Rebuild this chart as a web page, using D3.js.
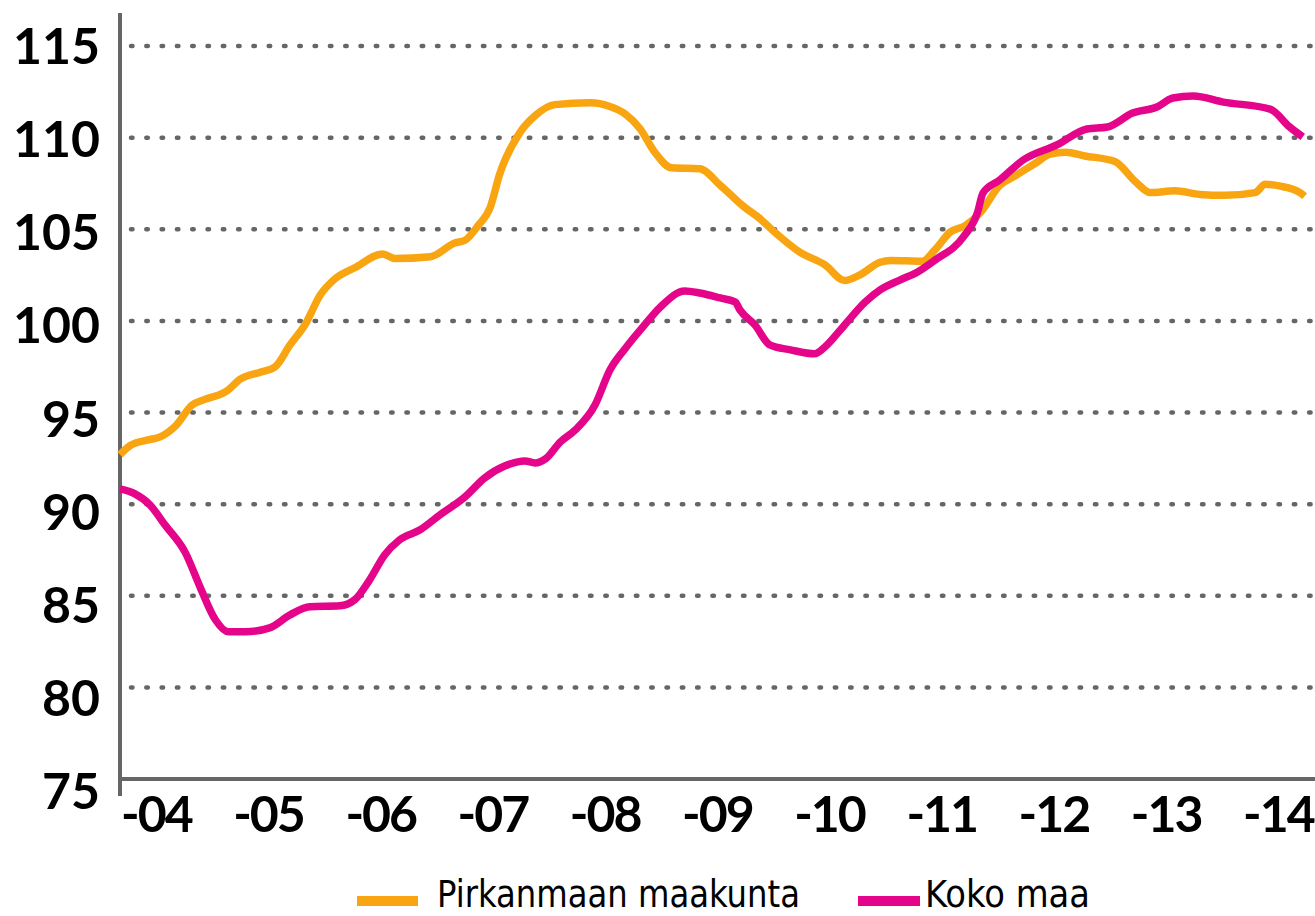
<!DOCTYPE html>
<html>
<head>
<meta charset="utf-8">
<script src="https://cdn.jsdelivr.net/npm/d3@7"></script>
<style>
  html, body { margin: 0; padding: 0; background: #fff; }
  svg { display: block; }
</style>
</head>
<body>
<script>
// months counted from Jan 2004
var pirkMonths = [0, 1.1, 3, 4.3, 6, 7.7, 9, 11.5, 12.8, 15, 16.6, 18.2, 19.8, 21.4, 23, 25.1, 28.1, 29.4, 33.2, 35.8, 36.9, 38.3, 39.6, 40.6, 42.8, 44.4, 46.5, 50.3, 52.4, 54, 55.6, 57.2, 59, 62, 64.2, 66.8, 68.4, 70, 72.7, 75.4, 77.5, 79.1, 81.3, 82.4, 85.8, 87.2, 88.8, 90.4, 92, 94.1, 95.7, 97.9, 99.5, 101.1, 103.2, 106.4, 108.6, 110.2, 112.8, 115.5, 118.2, 121.4, 122.5, 124.1, 126.2, 126.7];
var pirkValues = [92.7, 93.2, 93.5, 93.67, 94.3, 95.4, 95.7, 96.2, 96.8, 97.2, 97.5, 98.7, 99.8, 101.4, 102.3, 102.9, 103.65, 103.4, 103.5, 104.25, 104.4, 105.2, 106.2, 108.0, 110.3, 111.2, 111.8, 111.9, 111.7, 111.3, 110.5, 109.2, 108.35, 108.3, 107.4, 106.2, 105.6, 104.85, 103.75, 103.05, 102.2, 102.5, 103.2, 103.3, 103.25, 103.9, 104.85, 105.2, 105.9, 107.4, 107.9, 108.6, 109.1, 109.2, 109.0, 108.7, 107.6, 107.0, 107.1, 106.9, 106.85, 107.0, 107.45, 107.35, 107.0, 106.8];

var kokoMonths = [0, 1.6, 3.2, 4.8, 7, 8.6, 10.2, 11.6, 13.4, 16, 18.2, 20.3, 23.5, 25.1, 26.7, 28.3, 29.9, 32.1, 34.2, 36.9, 39, 41.2, 43.3, 44.4, 45.5, 47.1, 48.7, 50.8, 52.4, 54, 56.1, 57.8, 60.4, 62, 64.2, 65.8, 66.3, 67.9, 69.5, 71.7, 74.3, 75.4, 77.5, 79.7, 81.3, 83.4, 85.3, 87.2, 90.2, 91.7, 92.3, 94.1, 96.6, 100.2, 103.4, 105.6, 108.3, 110.9, 112.6, 114.8, 118, 123, 125.1, 126.5];
var kokoValues = [90.83, 90.56, 89.96, 88.87, 87.34, 85.43, 83.69, 83.03, 83.03, 83.25, 83.96, 84.4, 84.45, 84.78, 85.87, 87.23, 88.05, 88.6, 89.41, 90.4, 91.43, 92.09, 92.36, 92.25, 92.47, 93.4, 94.05, 95.41, 97.32, 98.47, 99.78, 100.76, 101.63, 101.52, 101.25, 101.03, 100.6, 99.78, 98.69, 98.42, 98.2, 98.58, 99.78, 101.03, 101.69, 102.23, 102.67, 103.33, 104.58, 105.89, 106.98, 107.69, 108.78, 109.6, 110.47, 110.58, 111.34, 111.67, 112.16, 112.27, 111.94, 111.56, 110.58, 110.04];

var yearLabels = ["-04", "-05", "-06", "-07", "-08", "-09", "-10", "-11", "-12", "-13", "-14"];
var yTicks = [75, 80, 85, 90, 95, 100, 105, 110, 115];
var seriesNames = ["Pirkanmaan maakunta", "Koko maa"];
var colors = ["#f8a511", "#e5058b"];

var width = 1315, height = 916;

var svg = d3.select("body").append("svg")
  .attr("width", width)
  .attr("height", height);

var x = d3.scaleLinear().domain([0, 120]).range([120, 1242]);
var y = d3.scaleLinear().domain([75, 115]).range([779, 46]);

// dotted grid
svg.append("g").selectAll("line")
  .data(yTicks.slice(1))
  .enter().append("line")
  .attr("x1", 131).attr("x2", 1315)
  .attr("y1", function(d) { return y(d); })
  .attr("y2", function(d) { return y(d); })
  .attr("stroke", "#666")
  .attr("stroke-width", 4.5)
  .attr("stroke-linecap", "round")
  .attr("stroke-dasharray", "1.5 13.8");

// axes
svg.append("line")
  .attr("x1", 120).attr("x2", 120)
  .attr("y1", 13).attr("y2", 796)
  .attr("stroke", "#666").attr("stroke-width", 4);
svg.append("line")
  .attr("x1", 118).attr("x2", 1315)
  .attr("y1", y(75)).attr("y2", y(75))
  .attr("stroke", "#666").attr("stroke-width", 4);

// y labels
svg.append("g").selectAll("text")
  .data(yTicks)
  .enter().append("text")
  .attr("x", 100)
  .attr("y", function(d) { return y(d) + 18 + (115 - d) * 0.3; })
  .attr("text-anchor", "end")
  .style("font-family", "Lato, 'Open Sans', sans-serif")
  .style("font-weight", 700)
  .style("font-size", "50px")
  .text(function(d) { return d; });

// x labels
svg.append("g").selectAll("text")
  .data(yearLabels)
  .enter().append("text")
  .attr("x", function(d, i) { return x(i * 12) + 1; })
  .attr("y", 832)
  .style("font-family", "Lato, 'Open Sans', sans-serif")
  .style("font-weight", 700)
  .style("font-size", "50px")
  .style("letter-spacing", "-2px")
  .text(function(d) { return d; });

var line = d3.line()
  .x(function(d) { return x(d[0]); })
  .y(function(d) { return y(d[1]); })
  .curve(d3.curveMonotoneX);

var series = [
  d3.zip(pirkMonths, pirkValues),
  d3.zip(kokoMonths, kokoValues)
];

svg.append("g").selectAll("path")
  .data(series)
  .enter().append("path")
  .attr("d", line)
  .attr("fill", "none")
  .attr("stroke", function(d, i) { return colors[i]; })
  .attr("stroke-width", 7.5)
  .attr("stroke-linejoin", "round");

// legend
var legendX = [357, 858];
var lg = svg.append("g").selectAll("g")
  .data(seriesNames)
  .enter().append("g")
  .attr("transform", function(d, i) { return "translate(" + legendX[i] + ",901)"; });
lg.append("line")
  .attr("x1", 0).attr("x2", function(d, i) { return i == 0 ? 61 : 62; })
  .attr("stroke", function(d, i) { return colors[i]; })
  .attr("stroke-width", 10);
lg.append("text")
  .attr("x", function(d, i) { return i == 0 ? 80 : 67; })
  .attr("y", 6)
  .attr("textLength", function(d, i) { return i == 0 ? 363 : 165; })
  .attr("lengthAdjust", "spacingAndGlyphs")
  .style("font-family", "'Liberation Sans Narrow', 'DejaVu Sans Condensed', sans-serif")
  .style("font-size", "37px")
  .text(function(d) { return d; });
</script>
</body>
</html>
